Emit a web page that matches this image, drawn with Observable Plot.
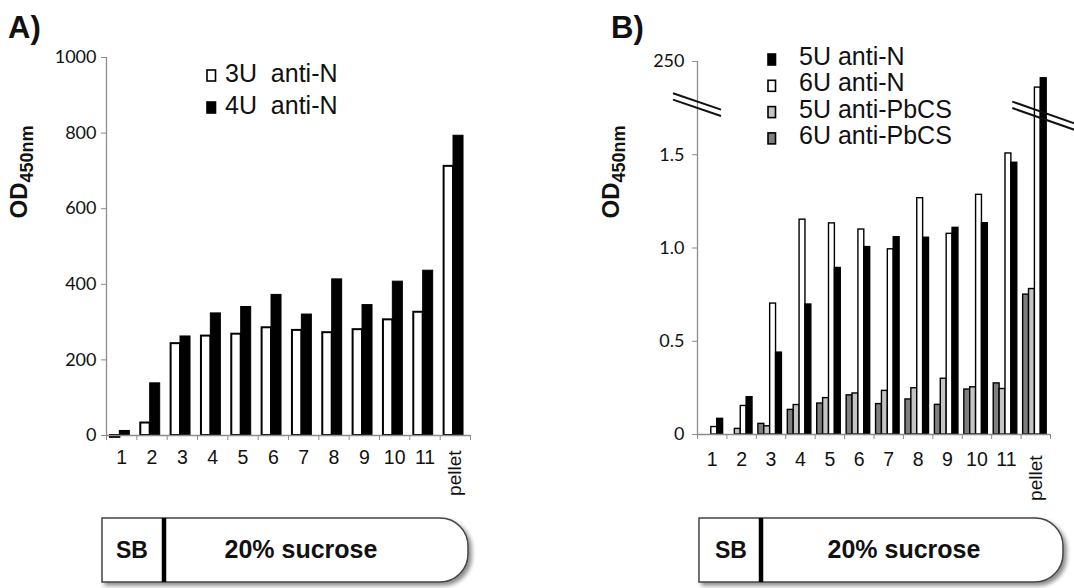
<!DOCTYPE html>
<html>
<head>
<meta charset="utf-8">
<script src="https://cdn.jsdelivr.net/npm/d3@7"></script>
<script src="https://cdn.jsdelivr.net/npm/@observablehq/plot@0.6"></script>
<style>
  body { margin: 0; background: #fff; }
  #wrap { position: relative; width: 1074px; height: 588px; overflow: hidden; background: #fff; }
  #wrap > .panel { position: absolute; top: 0; }
  #wrap > svg.overlay { position: absolute; left: 0; top: 0; pointer-events: none; }
</style>
</head>
<body>
<div id="wrap"></div>
<script>
// ---------------- data ----------------
const categories = ["1", "2", "3", "4", "5", "6", "7", "8", "9", "10", "11", "pellet"];

// Panel A (OD450nm, x1000 scale)
const valsA3U = [-5, 33, 243, 263, 268, 285, 278, 272, 280, 306, 326, 712];
const valsA4U = [12, 138, 262, 323, 340, 372, 320, 413, 345, 407, 436, 793];

// Panel B (OD450nm, broken axis above 1.75)
const valsB6P = [0, 0, 0.057, 0.132, 0.166, 0.21, 0.163, 0.188, 0.159, 0.241, 0.274, 0.75];
const valsB5P = [0, 0.03, 0.044, 0.158, 0.195, 0.22, 0.234, 0.248, 0.299, 0.253, 0.244, 0.78];
const valsB6N = [0.04, 0.153, 0.702, 1.152, 1.132, 1.099, 0.993, 1.267, 1.076, 1.285, 1.507, 222];
const valsB5N = [0.084, 0.2, 0.439, 0.697, 0.893, 1.005, 1.058, 1.055, 1.108, 1.133, 1.457, 232];

const ticksA = [0, 200, 400, 600, 800, 1000];
const ticksB = [0, 0.5, 1.0, 1.5, 250];
const tickLabelsB = ["0", "0.5", "1.0", "1.5", "250"];
const yBreakB = [1.75, 200];

const legendA = ["3U  anti-N", "4U  anti-N"];
const legendB = ["5U anti-N", "6U anti-N", "5U anti-PbCS", "6U anti-PbCS"];
const panelLabels = ["A)", "B)"];
const tubeLabels = ["SB", "20% sucrose"];

// ---------------- styles ----------------
const AX = "#8c8c8c";
const TICKFONT = "Lato, 'Open Sans', sans-serif";
const SANS = "'Liberation Sans', Arial, sans-serif";
const DARK = "#7f7f7f", LIGHT = "#c4c4c4";

const rows = vals => vals.map((v, i) => ({i, v, c: categories[i]}));
const labelTicks = categories.map((c, i) => i + 0.5).filter((t, i) => categories[i] !== "pellet");
const pelletTick = categories.indexOf("pellet") + 0.5;

// ---------------- Panel A ----------------
const slotsA = [[0.13, 0.44], [0.44, 0.77]];
const plotA = Plot.plot({
  width: 540, height: 470,
  marginLeft: 106, marginRight: 70, marginTop: 57, marginBottom: 35,
  x: {type: "linear", domain: [0, categories.length], axis: null},
  y: {type: "linear", domain: [0, 1000], axis: null},
  style: {background: "transparent", overflow: "visible"},
  marks: [
    Plot.rect(rows(valsA3U), {x1: d => d.i + slotsA[0][0], x2: d => d.i + slotsA[0][1], y1: 0, y2: "v",
      fill: "white", stroke: "black", strokeWidth: 2}),
    Plot.rect(rows(valsA4U), {x1: d => d.i + slotsA[1][0], x2: d => d.i + slotsA[1][1], y1: 0, y2: "v",
      fill: "black", stroke: "black", strokeWidth: 1}),
    Plot.ruleX([0], {stroke: AX, strokeWidth: 1.3}),
    Plot.ruleY([0], {stroke: AX, strokeWidth: 1.3}),
    Plot.axisY({ticks: ticksA, tickSize: 5, tickPadding: 5, stroke: AX, fill: "#111",
      tickFormat: d => String(d), fontSize: 18, fontFamily: TICKFONT, label: null}),
    Plot.axisX({ticks: d3.range(categories.length + 1), tickSize: 5, tickFormat: () => "", stroke: AX, label: null}),
    Plot.axisX({ticks: labelTicks, tickSize: 0, tickPadding: 15, tickFormat: v => categories[Math.floor(v)],
      fontSize: 19.5, fontFamily: SANS, fill: "#111", label: null}),
    Plot.text([categories[categories.length - 1]], {x: pelletTick, y: 0, text: d => d, rotate: -90,
      textAnchor: "end", lineAnchor: "middle", dy: 15, fontSize: 19, fontFamily: SANS, fill: "#111"})
  ]
});
plotA.classList.add("panel");
plotA.style.left = "0px";

// ---------------- Panel B ----------------
const WB = 534, HB = 470, mTB = 61, mBB = 36, mLB = 157, mRB = 24;
const yBot = HB - mBB, unitB = (yBot - mTB) / 2, yBrk = yBot - yBreakB[0] * unitB;
const slotsB = [[0.07, 0.27], [0.27, 0.47], [0.47, 0.67], [0.67, 0.87]];
const seriesB = [
  {vals: valsB6P, fill: DARK, slot: 0},
  {vals: valsB5P, fill: LIGHT, slot: 1},
  {vals: valsB6N, fill: "white", slot: 2},
  {vals: valsB5N, fill: "black", slot: 3}
];
const plotB = Plot.plot({
  width: WB, height: HB,
  marginLeft: mLB, marginRight: mRB, marginTop: mTB, marginBottom: mBB,
  x: {type: "linear", domain: [0, categories.length], axis: null},
  y: {type: "linear", domain: [0, yBreakB[0], yBreakB[1], 250], range: [yBot, yBrk, yBrk, mTB], axis: null},
  style: {background: "transparent", overflow: "visible"},
  marks: [
    ...seriesB.map(s => Plot.rect(rows(s.vals).filter(d => d.v > 0), {
      x1: d => d.i + slotsB[s.slot][0], x2: d => d.i + slotsB[s.slot][1], y1: 0, y2: "v",
      fill: s.fill, stroke: "black", strokeWidth: 1.4})),
    Plot.ruleX([0], {stroke: AX, strokeWidth: 1.3}),
    Plot.ruleY([0], {stroke: AX, strokeWidth: 1.3}),
    Plot.axisY({ticks: ticksB, tickSize: 5, tickPadding: 8, stroke: AX, fill: "#111",
      tickFormat: d => tickLabelsB[ticksB.indexOf(d)], fontSize: 18, fontFamily: TICKFONT, label: null}),
    Plot.axisX({ticks: d3.range(categories.length + 1), tickSize: 5, tickFormat: () => "", stroke: AX, label: null}),
    Plot.axisX({ticks: labelTicks, tickSize: 0, tickPadding: 18, tickFormat: v => categories[Math.floor(v)],
      fontSize: 19.5, fontFamily: SANS, fill: "#111", label: null}),
    Plot.text([categories[categories.length - 1]], {x: pelletTick, y: 0, text: d => d, rotate: -90,
      textAnchor: "end", lineAnchor: "middle", dy: 21, fontSize: 19, fontFamily: SANS, fill: "#111"})
  ]
});
plotB.classList.add("panel");
plotB.style.left = "540px";

const wrap = document.getElementById("wrap");
wrap.appendChild(plotA);
wrap.appendChild(plotB);

// ---------------- overlay: labels, legends, breaks, tubes ----------------
const svg = d3.select(wrap).append("svg").attr("class", "overlay")
  .attr("width", 1074).attr("height", 588);

const defs = svg.append("defs");
defs.append("filter").attr("id", "shadow").attr("x", "-5%").attr("y", "-20%").attr("width", "115%").attr("height", "150%")
  .append("feDropShadow").attr("dx", 3).attr("dy", 3).attr("stdDeviation", 2)
  .attr("flood-color", "#000").attr("flood-opacity", 0.45);

// panel letters
[[8, panelLabels[0]], [611, panelLabels[1]]].forEach(([x, t]) => {
  svg.append("text").attr("x", x).attr("y", 38).attr("font-family", SANS).attr("font-weight", "bold")
    .attr("font-size", 31).attr("fill", "#111").text(t);
});

// y-axis titles
[27, 619].forEach(x => {
  const t = svg.append("text").attr("transform", `translate(${x},172) rotate(-90)`)
    .attr("text-anchor", "middle").attr("font-family", SANS).attr("font-weight", "bold")
    .attr("font-size", 24).attr("fill", "#111");
  t.append("tspan").text("OD");
  t.append("tspan").attr("font-size", 18).attr("dy", 6).text("450nm");
});

// legend A
const legA = [{fill: "white"}, {fill: "black"}];
legendA.forEach((lab, k) => {
  const base = 82 + k * 32;
  svg.append("rect").attr("x", 207).attr("y", base - 12).attr("width", 8.5).attr("height", 11)
    .attr("fill", legA[k].fill).attr("stroke", "black").attr("stroke-width", 1.6);
  svg.append("text").attr("x", 225).attr("y", base).attr("font-family", SANS).attr("font-size", 25)
    .attr("fill", "#111").style("white-space", "pre").attr("xml:space", "preserve").text(lab);
});

// legend B
const legB = ["black", "white", LIGHT, DARK];
legendB.forEach((lab, k) => {
  const base = 65 + k * 26.3;
  svg.append("rect").attr("x", 768).attr("y", base - 11).attr("width", 7.5).attr("height", 11)
    .attr("fill", legB[k]).attr("stroke", "black").attr("stroke-width", 1.6);
  svg.append("text").attr("x", 799).attr("y", base).attr("font-family", SANS).attr("font-size", 25)
    .attr("fill", "#111").text(lab);
});

// axis-break marks (panel B)
const bx = plotB.scale("x"), by = plotB.scale("y");
const axisXB = 540 + bx.apply(0);
const yb = by.apply(yBreakB[0]);
function breakMark(cx, cy, left, right, slope) {
  [-3.2, 3.2].forEach(off => {
    svg.append("line")
      .attr("x1", cx - left).attr("y1", cy + off - left * slope)
      .attr("x2", cx + right).attr("y2", cy + off + right * slope)
      .attr("stroke", "#111").attr("stroke-width", 2);
  });
}
breakMark(axisXB, yb - 3, 24, 24, 0.34);
const pelletX = 540 + bx.apply(categories.length - 1 + slotsB[2][1]);
breakMark(pelletX, yb + 7, 28, 36, 0.35);

// tubes
function tube(x0, x1, y0, y1, xDiv, sbX, sucX) {
  const r = 28, g = svg.append("g");
  g.append("path")
    .attr("d", `M${x0},${y0} H${x1 - r} A${r},${r} 0 0 1 ${x1},${y0 + r} V${y1 - r} A${r},${r} 0 0 1 ${x1 - r},${y1} H${x0} Z`)
    .attr("fill", "white").attr("stroke", "#444").attr("stroke-width", 1.5).attr("filter", "url(#shadow)");
  g.append("line").attr("x1", xDiv).attr("x2", xDiv).attr("y1", y0).attr("y2", y1)
    .attr("stroke", "black").attr("stroke-width", 4.5);
  const ym = y1 - 24;
  g.append("text").attr("x", sbX).attr("y", ym).attr("text-anchor", "middle").attr("font-family", SANS)
    .attr("font-weight", "bold").attr("font-size", 23).attr("fill", "#111").text(tubeLabels[0]);
  g.append("text").attr("x", sucX).attr("y", ym).attr("text-anchor", "middle").attr("font-family", SANS)
    .attr("font-weight", "bold").attr("font-size", 25).attr("fill", "#111").text(tubeLabels[1]);
}
tube(102, 468, 518, 582, 164, 132, 301);
tube(699, 1063, 518, 582, 761, 731, 904);
</script>
</body>
</html>
